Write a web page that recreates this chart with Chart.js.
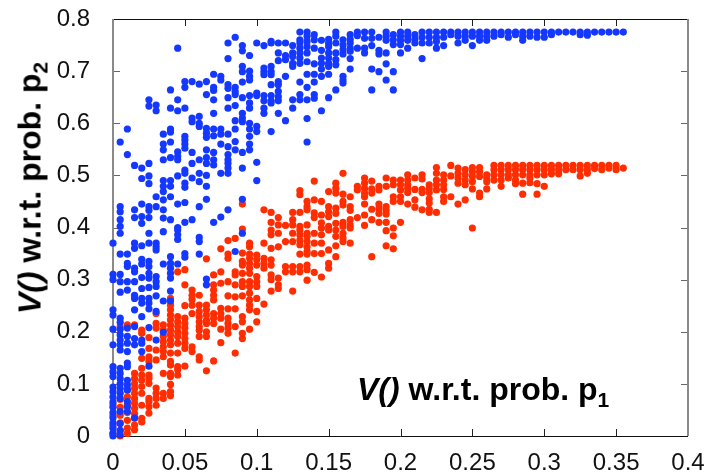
<!DOCTYPE html>
<html>
<head>
<meta charset="utf-8">
<style>
  html, body { margin: 0; padding: 0; background: #fff; }
  #wrap { position: relative; width: 711px; height: 472px; overflow: hidden; }
  #myChart { position: absolute; left: 0; top: 0; }
  .label { position: absolute; font: bold 32px "Liberation Sans", sans-serif; color: #000; white-space: nowrap; }
  .label sub { font-size: 21px; line-height: 0; vertical-align: -7px; }
  #xLabel { left: 357px; top: 371px; }
  #yLabel { left: 30px; top: 188px; transform: translate(-50%, -50%) rotate(-90deg); }
</style>
<script src="https://cdn.jsdelivr.net/npm/chart.js@4/dist/chart.umd.min.js"></script>
</head>
<body>
<div id="wrap">
  <canvas id="myChart" width="711" height="472"></canvas>
  <div class="label" id="xLabel"><i>V()</i> w.r.t. prob. p<sub>1</sub></div>
  <div class="label" id="yLabel"><i>V()</i> w.r.t. prob. p<sub>2</sub></div>
</div>
<script>
// Tick labels
const xTickLabels = ['0', '0.05', '0.1', '0.15', '0.2', '0.25', '0.3', '0.35', '0.4'];
const yTickLabels = ['0', '0.1', '0.2', '0.3', '0.4', '0.5', '0.6', '0.7', '0.8'];

// The points sit on columns of p1
const columnX = [
  0, 0.005, 0.01, 0.015, 0.02, 0.025, 0.03, 0.035, 0.04, 0.045, 0.05, 0.055,
  0.06, 0.065, 0.07, 0.075, 0.08, 0.085, 0.09, 0.095, 0.1, 0.105, 0.11, 0.115,
  0.12, 0.125, 0.13, 0.135, 0.14, 0.145, 0.15, 0.155, 0.16, 0.165, 0.17, 0.175,
  0.18, 0.185, 0.19, 0.195, 0.2, 0.205, 0.21, 0.215, 0.22, 0.225, 0.23, 0.235,
  0.24, 0.245, 0.25, 0.255, 0.26, 0.265, 0.27, 0.275, 0.28, 0.285, 0.29, 0.295,
  0.3, 0.305, 0.31, 0.315, 0.32, 0.325, 0.33, 0.335, 0.34, 0.345, 0.35, 0.355
];

// V() w.r.t. p2, one list per column
const blueColumns = [
  [.37, .31, .3, .242, .232, .205, .175, .133, .123, .114, .094, .085, .075, .065, .055, .045, .035, .025, .015, .005, 0],
  [.564, .44, .43, .415, .402, .389, .349, .31, .296, .276, .226, .218, .205, .194, .184, .175, .165, .13, .12, .11, .1, .091, .082, .072, .047, .024, .011, .002],
  [.589, .54, .349, .331, .325, .296, .28, .207, .191, .178, .162, .14, .133, .107, .098, .088, .066, .056, .047],
  [.519, .434, .419, .37, .36, .322, .315, .296, .27, .264, .242, .21, .187, .175, .035],
  [.514, .494, .445, .421, .408, .365, .339, .33, .304, .283, .264, .255, .229, .184, .178, .162],
  [.645, .633, .523, .499, .484, .44, .433, .419, .389, .37, .335, .325, .312, .303, .285, .264, .255, .244, .208, .134],
  [.635, .624, .459, .44, .37, .363, .357, .306, .296, .287, .269, .239, .184],
  [.579, .56, .549, .53, .49, .479, .469, .453, .434, .418, .392, .33, .259, .199],
  [.664, .629, .589, .583, .564, .534, .49, .479, .459, .415, .344, .331, .322, .312, .303, .278, .259],
  [.744, .645, .624, .545, .536, .53, .499, .445, .4, .395, .386, .377, .33],
  [.68, .669, .629, .575, .568, .56, .552, .51, .504, .485, .477, .448, .41, .35, .343],
  [.68, .61, .603, .544, .523, .495, .415],
  [.675, .613, .6, .594, .53, .504, .488, .44, .381, .373, .349],
  [.68, .655, .59, .581, .573, .549, .534, .523, .5, .479, .454, .301, .29],
  [.694, .669, .663, .645, .619, .589, .576, .544, .53, .52, .41],
  [.69, .683, .589, .579, .56, .504, .42],
  [.754, .724, .674, .667, .649, .629, .579, .555, .54, .53, .523, .514, .504, .434],
  [.765, .669, .661, .655, .634, .605, .589, .565, .549, .354],
  [.749, .739, .709, .699, .679, .649, .619, .61, .603, .544, .514, .454, .389],
  [.73, .7, .69, .683, .653, .639, .629, .6, .589, .575, .56, .549],
  [.754, .658, .653, .594, .584, .525, .49],
  [.749, .706, .699, .693, .653, .643, .629, .619],
  [.757, .754, .709, .699, .693, .674, .653, .643, .639, .584],
  [.754, .735, .72, .68, .674, .661, .651, .643, .619],
  [.754, .73, .722, .69, .605],
  [.749, .735, .728, .715, .709, .645, .629],
  [.775, .76, .754, .744, .735, .725, .715, .679, .655, .645],
  [.775, .767, .757, .747, .735, .718, .694, .669, .645, .609, .564],
  [.77, .76, .744, .714, .694, .679, .655, .648],
  [.759, .74, .725, .715, .704, .69, .624],
  [.761, .754, .747, .735, .725, .715, .709, .694, .649],
  [.775, .767, .754, .735, .722, .712, .664],
  [.76, .75, .741, .733, .69, .683, .677],
  [.77, .761, .754, .744, .738, .724, .704],
  [.775, .768, .744],
  [.775, .763, .744, .735],
  [.775, .763, .749, .704, .664],
  [.765, .74, .733, .699],
  [.775, .767, .759, .735, .714, .683],
  [.77, .76, .751, .699, .664],
  [.775, .767, .759, .751, .735],
  [.775, .767, .759, .744],
  [.77, .761, .754],
  [.775, .765, .754, .724],
  [.775, .765, .754],
  [.775, .765, .757, .744],
  [.775, .765, .749],
  [.775, .77],
  [.775, .767, .754],
  [.775, .767, .759],
  [.775, .767, .749],
  [.775, .767, .759],
  [.775, .767, .759],
  [.775, .767],
  [.775, .77],
  [.775, .765],
  [.775, .77],
  [.775, .767, .759],
  [.775, .767],
  [.775, .765],
  [.775, .765],
  [.775, .77],
  [.775],
  [.775],
  [.775],
  [.775, .77],
  [.775, .769],
  [.775],
  [.775],
  [.775],
  [.775],
  [.775]
];

// V() w.r.t. p1, one list per column
const redColumns = [
  [.06, .04, .02, .005],
  [.21, .07, .055, .04, .025, .01, 0],
  [.213, .09, .075, .06, .045, .03, .015, .005],
  [.213, .12, .11, .1, .091, .082, .072, .063, .053, .043, .034, .021, .012],
  [.203, .197, .149, .13, .117, .107, .095, .082, .059, .034, .027],
  [.189, .168, .152, .143, .117, .111, .101, .072, .066, .056, .044],
  [.235, .216, .207, .165, .146, .092, .082, .072, .059],
  [.213, .203, .191, .181, .171, .162, .152, .12, .082, .072],
  [.264, .251, .242, .232, .223, .213, .203, .194, .184, .175, .159, .143, .136, .12, .114, .099, .085, .077],
  [.315, .229, .219, .21, .2, .191, .178, .159, .133, .127, .117],
  [.319, .29, .25, .226, .216, .207, .197, .187, .178, .168, .134],
  [.28, .27, .262, .251, .235, .171, .162],
  [.27, .251, .239, .229, .219, .21, .203, .191, .152, .146],
  [.34, .251, .242, .232, .222, .216, .2, .191, .125],
  [.309, .29, .28, .27, .261, .235, .226, .216, .144],
  [.359, .315, .293, .245, .235, .226, .205, .179],
  [.375, .349, .341, .296, .269, .244, .226, .216, .207, .197],
  [.379, .315, .309, .29, .267, .244, .21, .159],
  [.445, .397, .351, .335, .328, .312, .296, .287, .269, .229, .219, .197, .187],
  [.37, .363, .349, .341, .331, .322, .312, .296, .287, .274, .261, .251, .242, .205],
  [.347, .338, .328, .306, .296, .287, .264, .239, .219],
  [.434, .37, .341, .331, .322, .253],
  [.429, .41, .395, .386, .36, .338, .328, .309, .3, .278],
  [.419, .405, .389, .363, .303, .29, .283],
  [.404, .373, .325, .315],
  [.429, .415, .405, .389, .373, .325, .315, .278],
  [.471, .463, .429, .402, .395, .386, .376, .367, .349, .325, .315],
  [.45, .44, .434, .405, .389, .383, .373, .363, .354, .349, .328, .319, .299],
  [.489, .453, .428, .419, .389, .37, .35, .314],
  [.45, .424, .409, .399, .386, .37, .35, .305],
  [.469, .44, .43, .421, .402, .395, .357, .331, .322],
  [.485, .475, .466, .437, .427, .408, .395, .383, .365, .344],
  [.504, .464, .45, .443, .41, .402, .389, .38, .373],
  [.459, .44, .433, .415, .405, .399, .37],
  [.479, .472, .419],
  [.495, .485, .475, .466, .459, .445, .424, .404],
  [.489, .474, .466, .435, .415, .344],
  [.479, .472, .445, .437, .427, .41],
  [.495, .479, .44, .433, .426, .41, .394, .365],
  [.491, .482, .459, .45, .399, .384, .359],
  [.491, .482, .472, .459, .45, .41],
  [.501, .491, .482, .475, .467, .445],
  [.495, .473, .453, .439],
  [.501, .493, .473, .467, .434],
  [.482, .475, .467, .455, .447, .435, .429],
  [.515, .504, .491, .482, .472, .429],
  [.501, .491, .482, .473, .459, .45],
  [.519, .499, .459],
  [.514, .504, .495, .485, .445],
  [.511, .501, .491, .482, .453],
  [.515, .507, .498, .488, .474, .399],
  [.515, .507, .498, .466, .459],
  [.501, .495, .488, .474],
  [.519, .511, .501, .491],
  [.519, .511, .501, .491, .479],
  [.519, .511, .501, .495],
  [.519, .511, .501, .491, .484],
  [.519, .511, .501, .485, .464],
  [.519, .511, .501, .495, .486],
  [.519, .511, .501, .484, .464],
  [.519, .511, .501, .479],
  [.519, .511, .503],
  [.519, .511, .503],
  [.519, .511],
  [.519, .511],
  [.519, .511, .499],
  [.519, .511, .504],
  [.519, .513],
  [.519, .511],
  [.519, .514],
  [.519, .511],
  [.514]
];

// Turn the column lists into scatter points
function toPoints(columns) {
  const points = [];
  columns.forEach((values, i) => {
    values.forEach(y => points.push({ x: columnX[i], y: y }));
  });
  return points;
}

// Frame and inward ticks on all four sides
const framePlugin = {
  id: 'frame',
  beforeDatasetsDraw(chart) {
    const { ctx, chartArea: a, scales } = chart;
    ctx.save();
    ctx.strokeStyle = '#222';
    ctx.lineWidth = 1;
    scales.x.ticks.forEach((t, i) => {
      const px = Math.round(scales.x.getPixelForTick(i)) + 0.5;
      ctx.beginPath();
      ctx.moveTo(px, a.top);
      ctx.lineTo(px, a.top + 7);
      ctx.moveTo(px, a.bottom);
      ctx.lineTo(px, a.bottom - 7);
      ctx.stroke();
    });
    ctx.strokeStyle = '#666';
    scales.y.ticks.forEach((t, i) => {
      const py = Math.round(scales.y.getPixelForTick(i)) + 0.5;
      ctx.beginPath();
      ctx.moveTo(a.left, py);
      ctx.lineTo(a.left + 7, py);
      ctx.moveTo(a.right, py);
      ctx.lineTo(a.right - 7, py);
      ctx.stroke();
    });
    ctx.strokeStyle = '#111';
    ctx.beginPath();
    ctx.moveTo(a.left, a.top + 0.5);
    ctx.lineTo(a.right, a.top + 0.5);
    ctx.moveTo(a.left, a.bottom + 0.5);
    ctx.lineTo(a.right, a.bottom + 0.5);
    ctx.stroke();
    ctx.strokeStyle = '#8a8a8a';
    ctx.lineWidth = 2;
    ctx.beginPath();
    ctx.moveTo(a.left, a.top);
    ctx.lineTo(a.left, a.bottom);
    ctx.moveTo(a.right, a.top);
    ctx.lineTo(a.right, a.bottom);
    ctx.stroke();
    ctx.restore();
  }
};

const ctx = document.getElementById('myChart').getContext('2d');
new Chart(ctx, {
  type: 'scatter',
  data: {
    datasets: [
      { label: 'p2', data: toPoints(blueColumns), backgroundColor: '#1438ff', order: 0, clip: false },
      { label: 'p1', data: toPoints(redColumns), backgroundColor: '#ff2d00', order: 1, clip: false }
    ]
  },
  options: {
    responsive: false,
    animation: false,
    layout: { padding: { top: 19, right: 23, left: 0, bottom: 0 } },
    elements: { point: { radius: 3.6, borderWidth: 0 } },
    plugins: { legend: { display: false }, tooltip: { enabled: false } },
    scales: {
      x: {
        type: 'linear',
        min: 0,
        max: 0.4,
        afterFit: scale => { scale.height = 36; scale.paddingLeft = 0; scale.paddingRight = 0; },
        grid: { display: false },
        border: { display: false },
        ticks: {
          stepSize: 0.05,
          padding: 5,
          maxRotation: 0,
          autoSkip: false,
          color: '#111',
          font: { family: '"Liberation Sans"', size: 24 },
          callback: (value, index) => xTickLabels[index]
        }
      },
      y: {
        type: 'linear',
        min: 0,
        max: 0.8,
        afterFit: scale => { scale.width = 113; scale.paddingTop = 0; scale.paddingBottom = 0; },
        grid: { display: false },
        border: { display: false },
        ticks: {
          stepSize: 0.1,
          padding: 15,
          autoSkip: false,
          color: '#111',
          font: { family: '"Liberation Sans"', size: 24 },
          callback: (value, index) => yTickLabels[index]
        }
      }
    }
  },
  plugins: [framePlugin]
});
</script>
</body>
</html>
